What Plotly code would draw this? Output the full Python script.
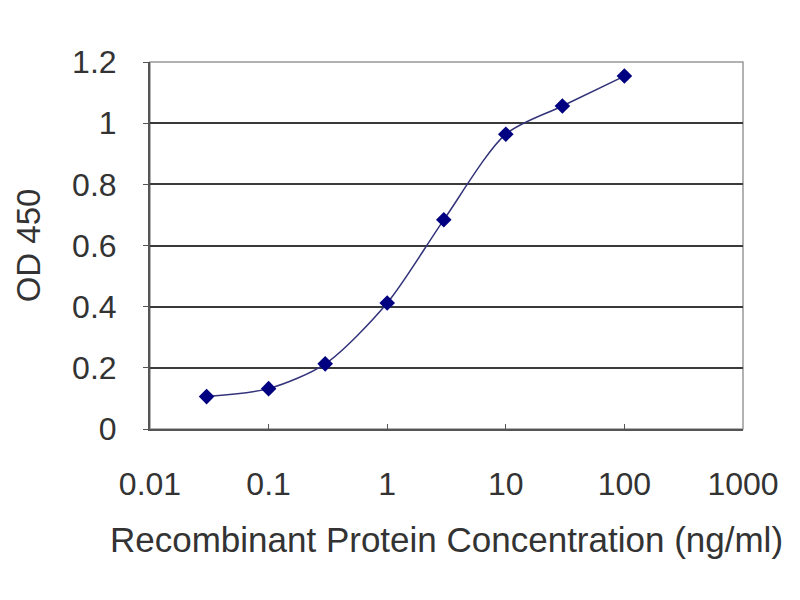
import plotly.graph_objects as go

# ELISA standard curve
conc = [0.03, 0.1, 0.3, 1, 3, 10, 30, 100]
od450 = [0.106, 0.132, 0.213, 0.412, 0.684, 0.964, 1.056, 1.154]

x_ticks = [0.01, 0.1, 1, 10, 100, 1000]
x_labels = ["0.01", "0.1", "1", "10", "100", "1000"]
y_ticks = [0, 0.2, 0.4, 0.6, 0.8, 1, 1.2]
y_labels = ["0", "0.2", "0.4", "0.6", "0.8", "1", "1.2"]

navy = "#000080"
font_family = "Liberation Sans, Arial, sans-serif"

fig = go.Figure()
fig.add_trace(go.Scatter(
    x=conc, y=od450,
    mode="lines+markers",
    line=dict(color="#33337a", width=1.5, shape="spline", smoothing=0.8),
    marker=dict(symbol="diamond", size=12, color=navy),
    showlegend=False,
))

fig.update_xaxes(
    type="log", range=[-2, 3],
    tickvals=x_ticks, ticktext=x_labels,
    showgrid=False, zeroline=False,
    showline=True, linecolor="#555555", linewidth=2,
    ticks="inside", ticklen=5, tickcolor="#555555",
    ticklabelstandoff=26,
    tickfont=dict(size=32, color="#333333", family=font_family),
    title=dict(text="Recombinant Protein Concentration (ng/ml)",
               font=dict(size=35, color="#333333", family=font_family),
               standoff=26),
)
fig.update_yaxes(
    range=[0, 1.2],
    tickvals=y_ticks, ticktext=y_labels,
    showgrid=True, gridcolor="#3a3a3a", gridwidth=2,
    zeroline=False,
    showline=True, linecolor="#555555", linewidth=2,
    ticks="outside", ticklen=5, tickcolor="#555555",
    ticklabelstandoff=20,
    tickfont=dict(size=32, color="#333333", family=font_family),
    title=dict(text="OD 450",
               font=dict(size=33, color="#333333", family=font_family),
               standoff=22),
)

# light right/top border of the plot area
fig.add_shape(type="rect", xref="paper", yref="paper", x0=0, y0=0, x1=1, y1=1,
              line=dict(color="#999999", width=1.5), layer="below")

fig.update_layout(
    width=800, height=600,
    margin=dict(l=142, r=65, t=54, b=179),
    paper_bgcolor="white", plot_bgcolor="white",
)

fig.write_html("out.html")
